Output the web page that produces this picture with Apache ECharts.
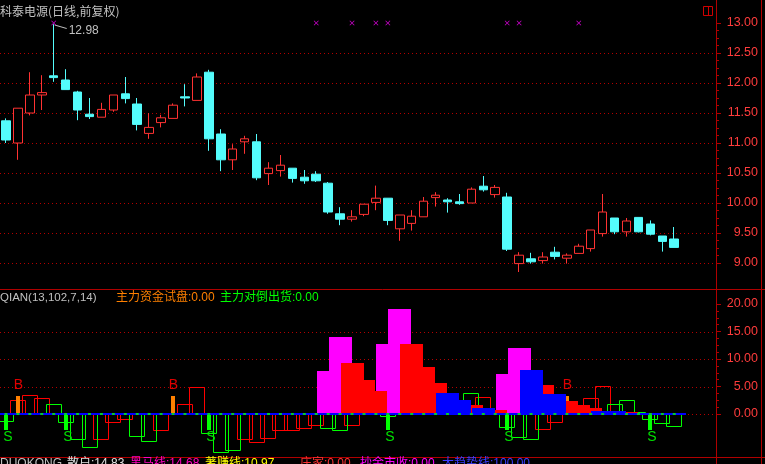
<!DOCTYPE html>
<html><head><meta charset="utf-8">
<script src="https://cdn.jsdelivr.net/npm/echarts@6/dist/echarts.min.js"></script>
<style>html,body{margin:0;padding:0;background:#000;}#c{width:765px;height:464px;}</style>
</head><body><div id="c"></div>
<script>
// ---- data ----
const SLOTS = 60;
const categories = Array.from({length: SLOTS}, (_, i) => 'D' + (i + 1));
// [open, close, low, high]
const candles = [
 [11.37,11.05,11.00,11.41],[11.00,11.58,10.72,11.58],[11.50,11.80,11.46,12.18],[11.80,11.84,11.55,12.13],
 [12.12,12.09,12.02,12.98],[12.05,11.89,11.89,12.23],[11.85,11.55,11.38,11.87],[11.48,11.44,11.40,11.75],
 [11.43,11.56,11.43,11.67],[11.55,11.80,11.52,11.80],[11.82,11.74,11.66,12.10],[11.65,11.31,11.21,11.75],
 [11.16,11.26,11.07,11.50],[11.34,11.42,11.26,11.47],[11.41,11.63,11.41,11.66],[11.77,11.75,11.61,11.98],
 [11.71,12.10,11.71,12.16],[12.18,11.07,10.87,12.22],[11.15,10.72,10.53,11.23],[10.72,10.90,10.55,10.98],
 [11.02,11.07,10.82,11.12],[11.02,10.42,10.38,11.15],[10.49,10.58,10.30,10.68],[10.54,10.63,10.44,10.80],
 [10.58,10.41,10.34,10.58],[10.43,10.37,10.32,10.55],[10.48,10.37,10.35,10.53],[10.33,9.85,9.82,10.35],
 [9.82,9.73,9.63,9.93],[9.73,9.77,9.69,9.88],[9.81,9.98,9.78,9.98],[10.01,10.08,9.88,10.29],
 [10.08,9.71,9.63,10.08],[9.57,9.80,9.37,9.80],[9.66,9.78,9.54,9.88],[9.77,10.03,9.77,10.10],
 [10.09,10.13,9.94,10.18],[10.05,10.02,9.84,10.08],[10.02,9.99,9.97,10.15],[10.00,10.23,10.00,10.26],
 [10.28,10.22,10.19,10.45],[10.14,10.26,10.09,10.30],[10.10,9.23,9.20,10.17],[8.99,9.13,8.85,9.18],
 [9.07,9.02,8.99,9.17],[9.04,9.10,8.99,9.18],[9.18,9.11,9.06,9.27],[9.08,9.13,8.99,9.16],
 [9.16,9.28,9.16,9.32],[9.24,9.55,9.19,9.55],[9.49,9.85,9.44,10.15],[9.75,9.52,9.48,9.75],
 [9.52,9.70,9.44,9.75],[9.76,9.52,9.51,9.76],[9.65,9.48,9.46,9.71],[9.45,9.36,9.19,9.45],
 [9.40,9.26,9.26,9.60]
];
const priceTicks = [9, 13, 0.5];          // min, max, step
const alertIdx = [4, 26, 29, 31, 32, 42, 43, 48];  // magenta crosses
const alertLevel = 13.0;
const highMark = {idx: 4, value: 12.98};
const lowMark = {idx: 43, value: 8.85};

// QIAN panel
const hollowRed = [null,2.5,3.45,2.85,null,null,null,null,-4.8,-1.7,-1.15,null,null,-3.1,0.15,1.9,4.85,null,null,null,
 -4.8,-5.3,-4.6,-3.15,-3.0,-2.8,-2.1,null,null,-2.1,2.0,2.0,null,3.0,3.0,2.0,2.0,null,null,null,3.1,0.5,null,null,null,
 -2.85,-1.6,1.0,1.5,2.9,5.1,null,null,null,null,null,null];
const hollowGreen = [-1.5,null,null,null,1.9,-1.7,-4.8,-6.1,null,null,null,-4.2,-5.0,null,null,null,null,-3.7,-7.0,-6.7,
 null,null,null,null,null,null,null,-2.8,-3.0,null,null,null,-0.5,null,null,null,null,2.0,2.0,3.8,null,null,-2.5,-4.3,-4.7,
 null,null,null,null,null,null,1.9,2.5,0.3,-1.1,-1.9,-2.3];
const magentaBar = [[27,7.8],[28,14.0],[32,12.7],[33,19.1],[42,7.3],[43,12.0]];
const redBar = [[29,9.3],[30,6.2],[31,4.2],[34,12.7],[35,8.5],[36,5.6],[39,1.6],[41,0.7],[45,5.3],[47,2.4],[48,1.6],[49,1.1],[52,0.36]];
const blueBar = [[37,3.8],[38,2.5],[40,1.1],[44,8.0],[46,3.6],[50,0.55],[51,0.55],[53,0.2],[54,0.2],[55,0.2],[56,0.2]];
const trialSignal = [[1,3.3],[14,3.3],[47,3.3]];          // 主力资金试盘 -> B
const dumpSignal = [[0,-2.9],[5,-2.9],[17,-2.9],[32,-2.9],[42,-2.9],[54,-2.9]]; // 主力对倒出货 -> S
const qianTicks = [0, 20, 5];

// ---- rendering ----
const LATIN = '"Liberation Sans","Noto Sans CJK SC",sans-serif';
const DOT = '#b40000';
const zeroRow = candles.map((c, i) => [i, 0]);
const levels = t => { const out = []; for (let k = 0; t[0] + k * t[2] < t[1] - 1e-9; k++) out.push([0, +(t[0] + k * t[2]).toFixed(4)]); return out; };
function dotRender(params, api) {
  const cs = params.coordSys;
  const y = Math.round(api.coord([0, api.value(1)])[1]) + 0.5;
  return {type: 'line', shape: {x1: cs.x, y1: y, x2: cs.x + cs.width, y2: y},
    style: {stroke: DOT, lineWidth: 1, lineDash: [1, 3]}};
}
function barRender(widthPx, hollow, color) {
  return function (params, api) {
    const i = api.value(0), v = api.value(1);
    if (v == null || isNaN(v)) return;
    const b = api.coord([i, 0]), t = api.coord([i, v]);
    const x0 = Math.round(b[0] - widthPx / 2), x1 = Math.round(b[0] + widthPx / 2);
    const y0 = Math.round(Math.min(b[1], t[1])), y1 = Math.round(Math.max(b[1], t[1]));
    if (hollow) {
      return {type: 'rect', shape: {x: x0 + 0.5, y: y0 + 0.5, width: x1 - x0 - 1, height: Math.max(y1 - y0 - 1, 0)},
        style: {fill: null, stroke: color, lineWidth: 1}};
    }
    return {type: 'rect', shape: {x: x0, y: y0, width: x1 - x0, height: Math.max(y1 - y0, 1)}, style: {fill: color}};
  };
}
function signalRender(color, label, labelColor, above) {
  return function (params, api) {
    const i = api.value(0), v = api.value(1);
    const b = api.coord([i, 0]), t = api.coord([i, v]);
    const cx = Math.round(b[0]);
    const y0 = Math.round(Math.min(b[1], t[1])), y1 = Math.round(Math.max(b[1], t[1]));
    return {type: 'group', children: [
      {type: 'rect', shape: {x: cx - 2, y: y0, width: 4, height: y1 - y0}, style: {fill: color}},
      {type: 'text', x: cx + (above ? 0.5 : 2), y: above ? y0 - 11 : y1 + 7,
        style: {text: label, fill: labelColor, font: '14px "Liberation Sans"', align: 'center', verticalAlign: 'middle',
          textAlign: 'center', textVerticalAlign: 'middle'}, z2: 10}
    ]};
  };
}
function baseRender(params, api) {
  const i = api.value(0);
  const b = api.coord([i, 0]);
  const w = 23;
  const x0 = Math.round(b[0] - w / 2), x1 = Math.round(b[0] + w / 2);
  return {type: 'rect', shape: {x: x0, y: Math.round(b[1]) - 1, width: x1 - x0, height: 2}, style: {fill: '#0000ff'}};
}
const nn = arr => arr.map((v, i) => [i, v]).filter(d => d[1] != null);

const xAxisBase = gi => ({type: 'category', gridIndex: gi, data: categories, boundaryGap: true,
  axisLine: {show: false}, axisTick: {show: false}, axisLabel: {show: false}, splitLine: {show: false}});
const yAxisBase = (gi, t) => ({type: 'value', gridIndex: gi, position: 'right', min: t[0], max: t[1], interval: t[2],
  axisLine: {show: true, lineStyle: {color: '#b00000'}},
  axisTick: {show: true, length: 5, lineStyle: {color: '#b00000'}},
  minorTick: {show: true, splitNumber: 4, length: 3, lineStyle: {color: '#b00000'}},
  axisLabel: {color: '#ff3c3c', fontSize: 12.5, fontFamily: '"Liberation Sans"', margin: 42, align: 'right',
    formatter: v => v.toFixed(2)},
  splitLine: {show: false}});

const X_PATH = 'path://M0,1L1,0L5,4L9,0L10,1L6,5L10,9L9,10L5,6L1,10L0,9L4,5Z';

const txt = (x, y, text, fill, font, va) => ({type: 'text', x: x, y: y,
  style: {text: text, fill: fill, font: font || ('12px ' + LATIN), textVerticalAlign: va || 'middle', verticalAlign: va || 'middle'}});
const ln = (x1, y1, x2, y2, c) => ({type: 'line', shape: {x1, y1, x2, y2}, style: {stroke: c || '#b00000', lineWidth: 1}});

const option = {
  backgroundColor: '#000',
  animation: false,
  grid: [
    {left: 0, right: 49, top: 23, height: 240},
    {left: 0, right: 49, top: 304, height: 110}
  ],
  xAxis: [xAxisBase(0), xAxisBase(1)],
  yAxis: [yAxisBase(0, priceTicks), yAxisBase(1, qianTicks)],
  series: [
    // price panel dotted grid, drawn as a series on the price grid (above everything so nothing can hide it)
    {type: 'custom', xAxisIndex: 0, yAxisIndex: 0, data: levels(priceTicks), renderItem: dotRender, silent: true, z: 1, zlevel: 0},
    {type: 'candlestick', xAxisIndex: 0, yAxisIndex: 0, data: candles, barWidth: 9, z: 3,
      itemStyle: {color: '#000', borderColor: '#ff3232', color0: '#54fcfc', borderColor0: '#54fcfc', borderWidth: 1},
      markPoint: {silent: true, animation: false, data: [
        {coord: [highMark.idx, highMark.value], symbol: 'path://M0 0L12 3.5L12 4.6L0 1.1Z', symbolSize: [12, 4.6],
          symbolOffset: [7, 2.5], itemStyle: {color: '#c0c0c0'},
          label: {show: true, formatter: highMark.value.toFixed(2), position: 'right', distance: 2, offset: [0, 4],
            color: '#c0c0c0', fontSize: 12, fontFamily: '"Liberation Sans"'}},
        {coord: [lowMark.idx, lowMark.value], symbol: 'circle', symbolSize: 1, itemStyle: {color: 'rgba(0,0,0,0)'},
          label: {show: true, formatter: '\u2190' + lowMark.value.toFixed(2), position: 'right', distance: 0, offset: [-2, 4],
            color: '#c0c0c0', fontSize: 12, fontFamily: '"Liberation Sans","DejaVu Sans"'}}
      ]}},
    {type: 'scatter', xAxisIndex: 0, yAxisIndex: 0, data: alertIdx.map(i => [i, alertLevel]), symbol: X_PATH,
      symbolSize: 5, itemStyle: {color: '#ff00ff'}, silent: true, z: 5},
    {type: 'custom', xAxisIndex: 1, yAxisIndex: 1, data: levels(qianTicks), renderItem: dotRender, silent: true, z: 1},
    {type: 'custom', xAxisIndex: 1, yAxisIndex: 1, data: nn(hollowRed), renderItem: barRender(16, true, '#ff0000'), silent: true},
    {type: 'custom', xAxisIndex: 1, yAxisIndex: 1, data: nn(hollowGreen), renderItem: barRender(16, true, '#00ff00'), silent: true},
    {type: 'custom', xAxisIndex: 1, yAxisIndex: 1, data: trialSignal, renderItem: signalRender('#ff8000', 'B', '#e00000', true), silent: true},
    {type: 'custom', xAxisIndex: 1, yAxisIndex: 1, data: dumpSignal, renderItem: signalRender('#00ff00', 'S', '#00e000', false), silent: true},
    {type: 'custom', xAxisIndex: 1, yAxisIndex: 1, data: magentaBar, renderItem: barRender(23, false, '#ff00ff'), silent: true},
    {type: 'custom', xAxisIndex: 1, yAxisIndex: 1, data: redBar, renderItem: barRender(23, false, '#ff0000'), silent: true},
    {type: 'custom', xAxisIndex: 1, yAxisIndex: 1, data: blueBar, renderItem: barRender(23, false, '#0000ff'), silent: true},
    {type: 'custom', xAxisIndex: 1, yAxisIndex: 1, data: zeroRow, renderItem: baseRender, silent: true},
    {type: 'scatter', xAxisIndex: 1, yAxisIndex: 1, data: zeroRow, symbol: 'rect', symbolSize: [3, 2],
      itemStyle: {color: '#00ff00'}, silent: true, z: 4}
  ],
  graphic: [
    ln(0, 289.5, 765, 289.5), ln(0, 457.5, 765, 457.5), ln(716.5, 0, 716.5, 464), ln(761.5, 0, 761.5, 464),
    {type: 'rect', shape: {x: 703.5, y: 6.5, width: 9, height: 9}, style: {fill: null, stroke: '#d00000', lineWidth: 1}},
    ln(708.5, 6.5, 708.5, 15.5, '#d00000'),
    txt(0, 11, '科泰电源(日线,前复权)', '#c0c0c0', '12px "Noto Sans CJK SC"'),
    txt(0, 298, 'QIAN(13,102,7,14)', '#c0c0c0', '11.5px ' + LATIN),
    txt(116, 298, '主力资金试盘:0.00', '#ff8000'),
    txt(220, 298, '主力对倒出货:0.00', '#00ff00'),
    txt(0, 458, 'DUOKONG', '#c0c0c0', '12px ' + LATIN, 'top'),
    txt(67, 458, '散户:14.83', '#e0e0e0', '12px ' + LATIN, 'top'),
    txt(130, 458, '黑马线:14.68', '#ff00c0', '12px ' + LATIN, 'top'),
    txt(205, 458, '著赚线:10.97', '#ffff00', '12px ' + LATIN, 'top'),
    txt(300, 458, '庄家:0.00', '#ff3232', '12px ' + LATIN, 'top'),
    txt(360, 458, '抄金市收:0.00', '#ff00ff', '12px ' + LATIN, 'top'),
    txt(442, 458, '大趋势线:100.00', '#3c3cff', '12px ' + LATIN, 'top')
  ]
};
const chart = echarts.init(document.getElementById('c'));
chart.setOption(option);
</script>
</body></html>
